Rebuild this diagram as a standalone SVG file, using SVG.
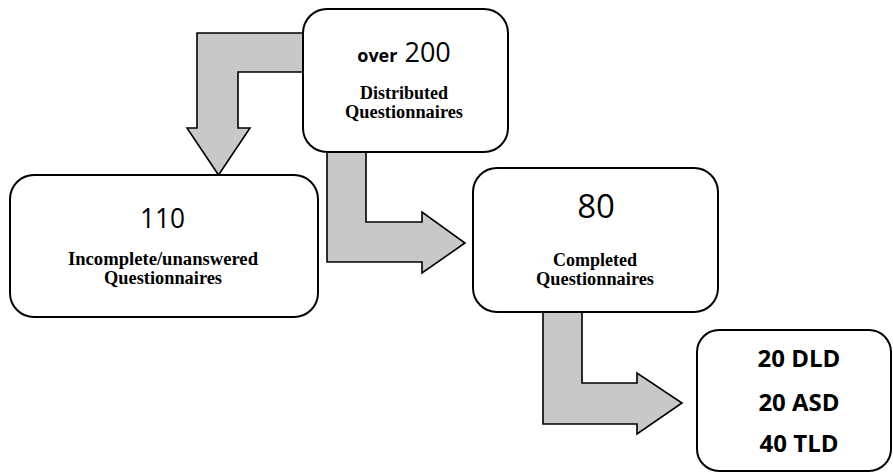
<svg xmlns="http://www.w3.org/2000/svg" width="893" height="472" viewBox="0 0 893 472">
<style>
.arrow{fill:#c8c8c8;stroke:#000;stroke-width:1.6;stroke-linejoin:miter}
.box{fill:#fff;stroke:#000;stroke-width:2}
.num{font-family:"Open Sans","Liberation Sans",sans-serif;fill:#000;text-anchor:middle}
.lbl{font-family:"Liberation Serif","Times New Roman",serif;font-weight:bold;font-size:18px;fill:#000;text-anchor:middle}
.grp{font-family:"Open Sans","Liberation Sans",sans-serif;font-weight:bold;font-size:24px;fill:#000;text-anchor:middle}
</style>
<rect width="893" height="472" fill="#fff"/>
<g id="connectors">
<polygon class="arrow" points="310,33 197,33 197,128 187,128 218.5,175 250,128 238,128 238,72 310,72"/>
<polygon class="arrow" points="327,145 327,262 422,262 422,273 465,243 422,212 422,222 366,222 366,145"/>
<polygon class="arrow" points="543,305 543,424 637,424 637,434 682,403 637,373 637,383 582,383 582,305"/>
</g>
<g id="node-distributed">
<rect class="box" x="303" y="9" width="205" height="143" rx="24"/>
<text x="404" y="62" class="num"><tspan font-weight="bold" font-size="18">over</tspan><tspan font-size="27" dx="7">200</tspan></text>
<text class="lbl"><tspan x="404" y="99">Distributed</tspan><tspan x="404" y="118" textLength="118" lengthAdjust="spacingAndGlyphs">Questionnaires</tspan></text>
</g>
<g id="node-incomplete">
<rect class="box" x="10" y="175" width="308" height="142" rx="24"/>
<text x="162.5" y="228" class="num" font-size="28" textLength="45" lengthAdjust="spacingAndGlyphs">110</text>
<text class="lbl"><tspan x="163" y="265" textLength="190" lengthAdjust="spacingAndGlyphs">Incomplete/unanswered</tspan><tspan x="163" y="284" textLength="118" lengthAdjust="spacingAndGlyphs">Questionnaires</tspan></text>
</g>
<g id="node-completed">
<rect class="box" x="473" y="168" width="245" height="144" rx="24"/>
<text x="596" y="218" class="num" font-size="33">80</text>
<text class="lbl"><tspan x="595" y="266">Completed</tspan><tspan x="595" y="285" textLength="118" lengthAdjust="spacingAndGlyphs">Questionnaires</tspan></text>
</g>
<g id="node-groups">
<rect class="box" x="697" y="330" width="194" height="141" rx="22"/>
<text x="799" y="367" class="grp">20 DLD</text>
<text x="799" y="411" class="grp">20 ASD</text>
<text x="799" y="452" class="grp">40 TLD</text>
</g>
</svg>
